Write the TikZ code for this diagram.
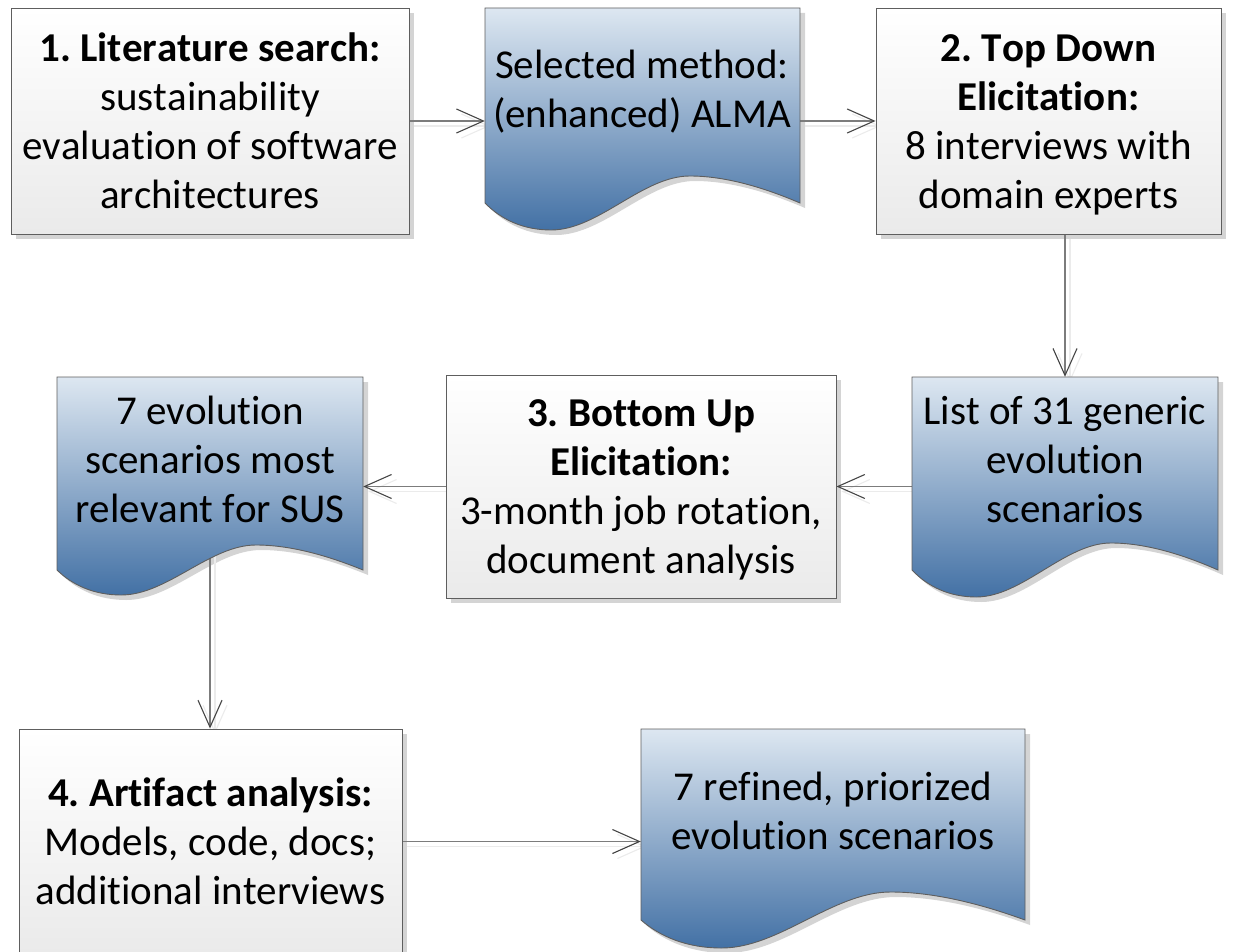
\documentclass[tikz,border=0pt]{standalone}
\usepackage{fontspec}
\setmainfont{Carlito}[Ligatures=NoCommon, Kerning=Off]
\usetikzlibrary{arrows.meta,calc}

\definecolor{edge}{HTML}{5E5E5E}
\definecolor{shadowc}{HTML}{D4D4D4}
\definecolor{docTop}{HTML}{DDE7F1}
\definecolor{docBot}{HTML}{4371A5}
\definecolor{boxBot}{HTML}{EAEAEA}
\definecolor{connc}{HTML}{7C7C7C}
\definecolor{headc}{HTML}{444444}
\definecolor{connshade}{HTML}{EBEBEB}

\pgfdeclarelayer{shadowlayer}
\pgfdeclarelayer{connlayer}
\pgfsetlayers{shadowlayer,connlayer,main}

% line strut: 38pt above, 11pt below the baseline
\newcommand\Ls{\rule[-11pt]{0pt}{49pt}}

% document shape with a wavy bottom edge
% #1 style, #2 left, #3 top, #4 right, #5 bottom of the sides, #6 wave depth
\newcommand\docpath[6]{%
  \path[#1] (#2,#3) -- (#4,#3) -- (#4,#5)
    .. controls ({#4-0.12*(#4-#2)},{#5-0.6*#6}) and ({#2+0.76*(#4-#2)},{#5-#6}) .. ({#2+0.65*(#4-#2)},{#5-#6})
    .. controls ({#2+0.50*(#4-#2)},{#5-#6}) and ({#2+0.36*(#4-#2)},{#5+#6}) .. ({#2+0.21*(#4-#2)},{#5+#6})
    .. controls ({#2+0.12*(#4-#2)},{#5+#6}) and ({#2+0.05*(#4-#2)},{#5+0.6*#6}) .. (#2,#5) -- cycle;}

\tikzset{
  txt/.style={align=center, font=\fontsize{41}{49}\selectfont\frenchspacing, inner sep=0pt},
  procbox/.style={txt, draw=edge, line width=0.9pt, top color=white, bottom color=boxBot},
  docarea/.style={draw=none, inner sep=0pt},
  docbody/.style={shade, draw=edge, line width=0.9pt, top color=docTop, bottom color=docBot},
  docshadow/.style={fill=shadowc, shift={(5,5)}},
  tip/.style={-{Straight Barb[length=27pt,width=24pt,line width=1.1pt]}},
  conn/.style={tip, draw=connc, line width=1.4pt, -{Straight Barb[length=27pt,width=24pt,line width=1.1pt,color=headc]}},
  connshadow/.style={tip, draw=connshade, line width=1.4pt, transform canvas={xshift=5pt,yshift=-5pt}},
}

\begin{document}
\begin{tikzpicture}[x=1pt,y=-1pt]
\useasboundingbox (0,0) rectangle (1241,952);
\clip (0,0) rectangle (1241,952);

% process steps
\node[procbox, minimum width=398pt, minimum height=226pt] (b1) at (210,121)
  {\Ls\textbf{1. Literature search:}\\\Ls sustainability\\\Ls evaluation of software\\\Ls architectures};
\node[procbox, minimum width=345pt, minimum height=226pt] (b2) at (1048.5,121)
  {\Ls\textbf{2. Top Down}\\\Ls\textbf{Elicitation:}\\\Ls 8 interviews with\\\Ls domain experts};
\node[procbox, minimum width=390pt, minimum height=223pt] (b3) at (641,486.5)
  {\Ls\textbf{3. Bottom Up}\\\Ls\textbf{Elicitation:}\\\Ls 3-month job rotation,\\\Ls document analysis};
\node[procbox, minimum width=383pt, minimum height=225pt] (b4) at (210.5,841.5)
  {\Ls\textbf{4. Artifact analysis:}\\\Ls Models, code, docs;\\\Ls additional interviews};

% documents
\docpath{docbody}{485}{8}{800}{203}{27}
\docpath{docbody}{912}{377}{1218}{570}{27}
\docpath{docbody}{57}{377}{363}{570}{25}
\docpath{docbody}{641}{729}{1025}{920}{28}

\node[docarea, minimum width=315pt, minimum height=195pt] (d1) at (642.5,105.5) {};
\node[docarea, minimum width=306pt, minimum height=193pt] (d2) at (1065,473.5) {};
\node[docarea, minimum width=306pt, minimum height=193pt] (d3) at (210,473.5) {};
\node[docarea, minimum width=384pt, minimum height=191pt] (d4) at (833,824.5) {};

\node[txt] (d1t) at (642,90) {\Ls Selected method:\\\Ls (enhanced) ALMA};
\node[txt] (d2t) at (1065,460) {\Ls List of 31 generic\\\Ls evolution\\\Ls scenarios};
\node[txt] (d3t) at (210,460) {\Ls 7 evolution\\\Ls scenarios most\\\Ls relevant for SUS};
\node[txt] (d4t) at (833,811) {\Ls 7 refined, priorized\\\Ls evolution scenarios};

% shadows
\begin{pgfonlayer}{shadowlayer}
  \foreach \b in {b1,b2,b3,b4}
    \fill[shadowc] ([shift={(5,5)}]\b.north west) rectangle ([shift={(5,5)}]\b.south east);
  \docpath{docshadow}{485}{8}{800}{203}{27}
  \docpath{docshadow}{912}{377}{1218}{570}{27}
  \docpath{docshadow}{57}{377}{363}{570}{25}
  \docpath{docshadow}{641}{729}{1025}{920}{28}
\end{pgfonlayer}

% connectors
\begin{pgfonlayer}{connlayer}
  \foreach \s in {connshadow,conn} {
    \draw[\s] (b1.east) -- (b1.east -| d1.west);
    \draw[\s] (d1.east |- b2.west) -- (b2.west);
    \draw[\s] (b2.south -| d2.north) -- (d2.north);
    \draw[\s] (d2.west |- b3.east) -- (b3.east);
    \draw[\s] (b3.west) -- (b3.west -| d3.east);
    \draw[\s] (d3.center) -- (d3.center |- b4.north);
    \draw[\s] (b4.east) -- (b4.east -| d4.west);
  }
\end{pgfonlayer}
\end{tikzpicture}
\end{document}
